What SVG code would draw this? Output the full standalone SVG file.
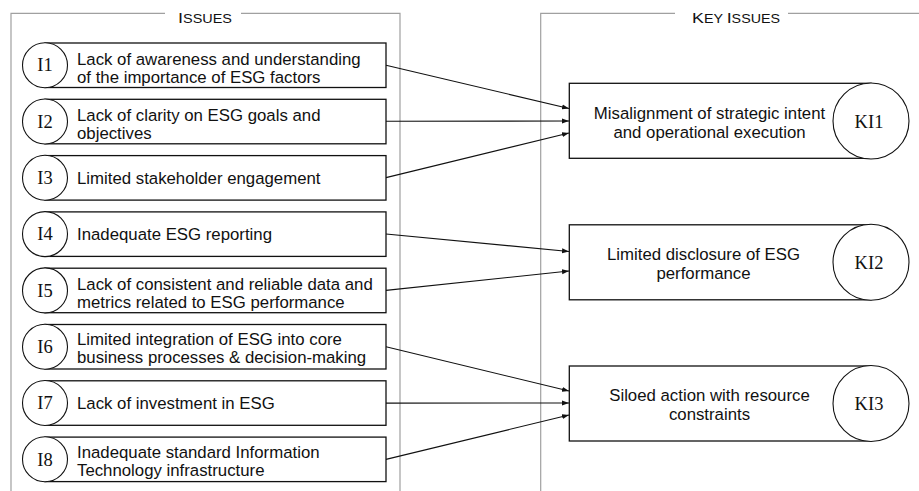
<svg xmlns="http://www.w3.org/2000/svg" width="919" height="491" viewBox="0 0 919 491">
<style>
.frame{fill:none;stroke:#a0a0a0;stroke-width:1.2}
.title{font-family:"Liberation Sans",Arial,sans-serif;font-size:15px;fill:#111}
.sc{font-size:12px}
.box{fill:#fff;stroke:#111;stroke-width:1.3}
.circ{fill:#fff;stroke:#111;stroke-width:1.1}
.t{font-family:"Liberation Sans",Arial,sans-serif;font-size:16.8px;fill:#111}
.tc{font-family:"Liberation Sans",Arial,sans-serif;font-size:16.8px;fill:#111;text-anchor:middle}
.lab{font-family:"Liberation Serif","Times New Roman",serif;font-size:18.5px;fill:#111;text-anchor:middle}
.conn{fill:none;stroke:#111;stroke-width:1.1}
</style>
<defs>
<marker id="arr" markerUnits="userSpaceOnUse" markerWidth="8" markerHeight="6" refX="7" refY="3" orient="auto">
<path d="M0,0.5 L7,3 L0,5.5 Z" fill="#111"/>
</marker>
</defs>
<rect width="919" height="491" fill="#fff"/>

<g id="frame-issues">
<path class="frame" d="M11,491 V13.3 H165 M241,13.3 H400 V491"/>
<text class="title" x="178" y="22.8" textLength="54" lengthAdjust="spacingAndGlyphs">I<tspan class="sc">SSUES</tspan></text>
</g>
<g id="frame-key-issues">
<path class="frame" d="M540.7,491 V13.3 H675 M788,13.3 H919"/>
<text class="title" x="692" y="22.8" textLength="88" lengthAdjust="spacingAndGlyphs">K<tspan class="sc">EY </tspan>I<tspan class="sc">SSUES</tspan></text>
</g>

<g id="connectors">
<path class="conn" marker-end="url(#arr)" d="M386,65.2 L569,108.5"/>
<path class="conn" marker-end="url(#arr)" d="M386,121.3 L569,121"/>
<path class="conn" marker-end="url(#arr)" d="M386,177.6 L569,133"/>
<path class="conn" marker-end="url(#arr)" d="M386,234 L569,251.5"/>
<path class="conn" marker-end="url(#arr)" d="M386,290.4 L569,271"/>
<path class="conn" marker-end="url(#arr)" d="M386,346.8 L569,391"/>
<path class="conn" marker-end="url(#arr)" d="M386,403.1 L569,403"/>
<path class="conn" marker-end="url(#arr)" d="M386,459.4 L569,415"/>
</g>

<g id="I1">
<rect class="box" x="45" y="43" width="341" height="44.5"/>
<circle class="circ" cx="45" cy="65.2" r="22.5"/>
<text class="lab" x="45" y="71.4">I1</text>
<text class="t" x="77" y="64.5">Lack of awareness and understanding</text>
<text class="t" x="77" y="82.5">of the importance of ESG factors</text>
</g>
<g id="I2">
<rect class="box" x="45" y="99.3" width="341" height="44.5"/>
<circle class="circ" cx="45" cy="121.5" r="22.5"/>
<text class="lab" x="45" y="127.7">I2</text>
<text class="t" x="77" y="120.8">Lack of clarity on ESG goals and</text>
<text class="t" x="77" y="138.8">objectives</text>
</g>
<g id="I3">
<rect class="box" x="45" y="155.6" width="341" height="44.5"/>
<circle class="circ" cx="45" cy="177.8" r="22.5"/>
<text class="lab" x="45" y="184">I3</text>
<text class="t" x="77" y="183.5">Limited stakeholder engagement</text>
</g>
<g id="I4">
<rect class="box" x="45" y="211.9" width="341" height="44.5"/>
<circle class="circ" cx="45" cy="234.1" r="22.5"/>
<text class="lab" x="45" y="240.3">I4</text>
<text class="t" x="77" y="239.8">Inadequate ESG reporting</text>
</g>
<g id="I5">
<rect class="box" x="45" y="268.2" width="341" height="44.5"/>
<circle class="circ" cx="45" cy="290.4" r="22.5"/>
<text class="lab" x="45" y="296.6">I5</text>
<text class="t" x="77" y="289.5">Lack of consistent and reliable data and</text>
<text class="t" x="77" y="307.5">metrics related to ESG performance</text>
</g>
<g id="I6">
<rect class="box" x="45" y="324.5" width="341" height="44.5"/>
<circle class="circ" cx="45" cy="346.7" r="22.5"/>
<text class="lab" x="45" y="352.9">I6</text>
<text class="t" x="77" y="345.3">Limited integration of ESG into core</text>
<text class="t" x="77" y="363.3">business processes &amp; decision-making</text>
</g>
<g id="I7">
<rect class="box" x="45" y="380.8" width="341" height="44.5"/>
<circle class="circ" cx="45" cy="403" r="22.5"/>
<text class="lab" x="45" y="409.2">I7</text>
<text class="t" x="77" y="408.8">Lack of investment in ESG</text>
</g>
<g id="I8">
<rect class="box" x="45" y="437.1" width="341" height="44.5"/>
<circle class="circ" cx="45" cy="459.3" r="22.5"/>
<text class="lab" x="45" y="465.5">I8</text>
<text class="t" x="77" y="458">Inadequate standard Information</text>
<text class="t" x="77" y="476">Technology infrastructure</text>
</g>

<g id="KI1">
<rect class="box" x="569.3" y="83.3" width="301.7" height="75"/>
<circle class="circ" cx="871" cy="121" r="38"/>
<text class="lab" x="869" y="127.5">KI1</text>
<text class="tc" x="709.5" y="118.5">Misalignment of strategic intent</text>
<text class="tc" x="709.5" y="137.5">and operational execution</text>
</g>
<g id="KI2">
<rect class="box" x="569.3" y="224.8" width="301.7" height="75"/>
<circle class="circ" cx="871" cy="262.3" r="38"/>
<text class="lab" x="869" y="268.8">KI2</text>
<text class="tc" x="703.5" y="259.8">Limited disclosure of ESG</text>
<text class="tc" x="703.5" y="278.8">performance</text>
</g>
<g id="KI3">
<rect class="box" x="569.3" y="366" width="301.7" height="75"/>
<circle class="circ" cx="871" cy="403.5" r="38"/>
<text class="lab" x="869" y="410">KI3</text>
<text class="tc" x="709.5" y="401">Siloed action with resource</text>
<text class="tc" x="709.5" y="420">constraints</text>
</g>
</svg>
